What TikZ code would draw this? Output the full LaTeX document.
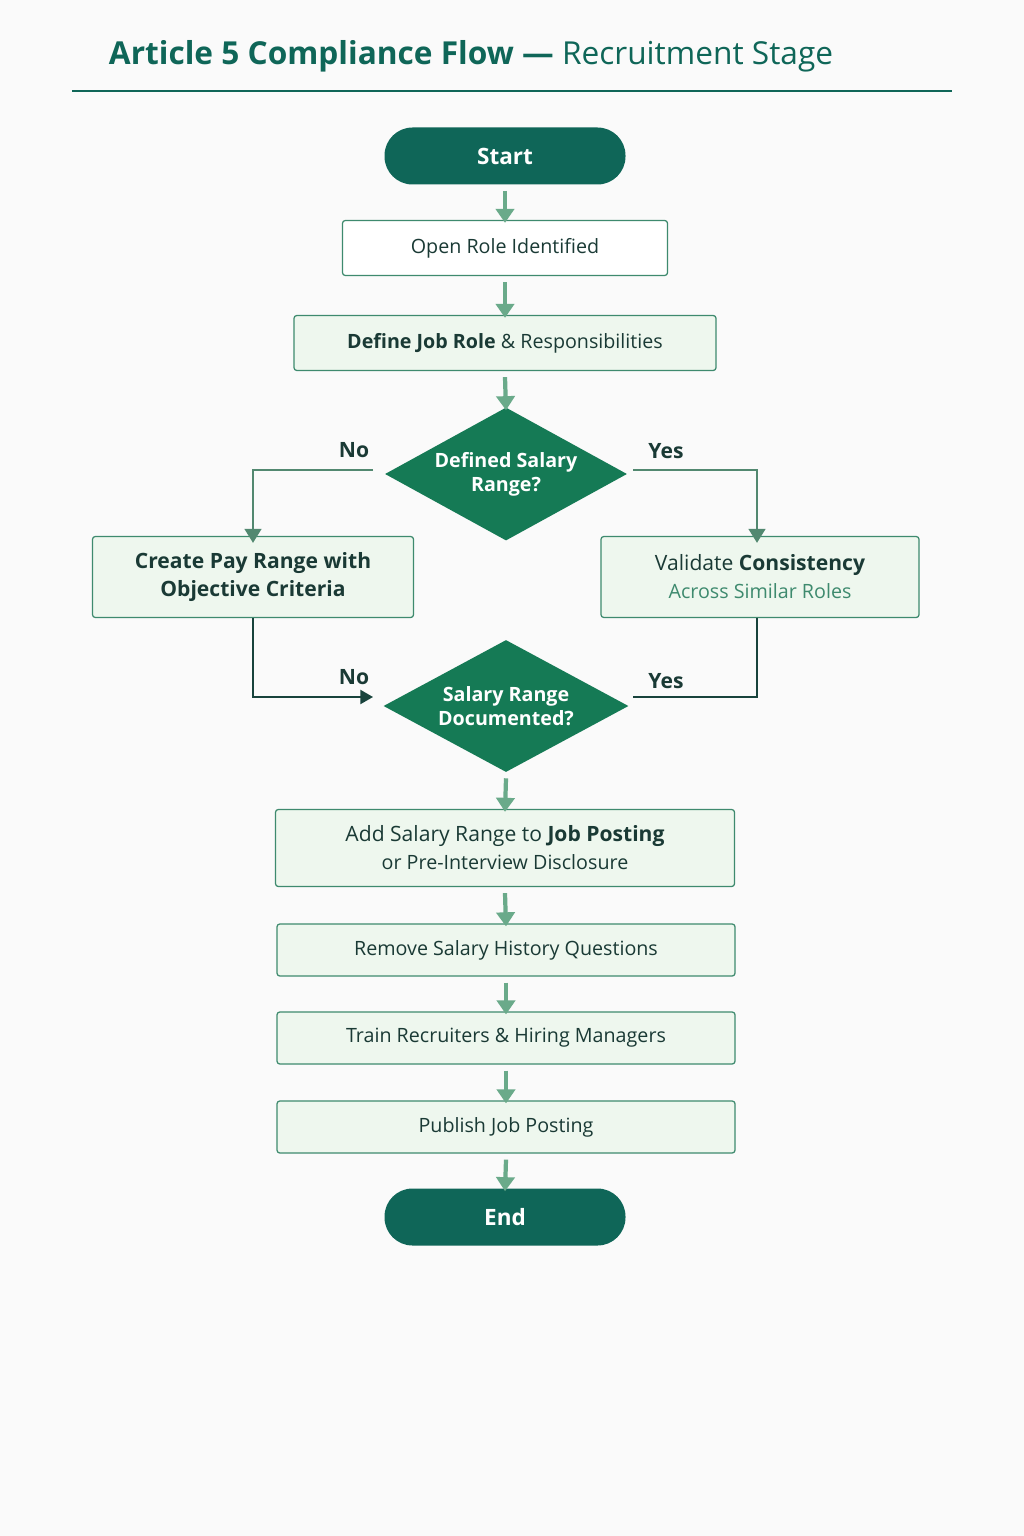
\documentclass[tikz,border=0pt]{standalone}
\usepackage{fontspec}
\setmainfont{Open Sans}
\usetikzlibrary{shapes.geometric,arrows.meta}
\definecolor{teal}{HTML}{0F6658}
\definecolor{dgreen}{HTML}{157A55}
\definecolor{lfill}{HTML}{EEF7EE}
\definecolor{bord}{HTML}{3E8A6E}
\definecolor{arr}{HTML}{6AAA8A}
\definecolor{ink}{HTML}{1A3A35}
\begin{document}
\begin{tikzpicture}[x=0.025cm,y=-0.025cm,
    pill/.style={rounded corners=28*0.025cm, fill=teal, text=white, font=\fontsize{16}{18}\selectfont\bfseries, minimum width=241*0.025cm, minimum height=57*0.025cm},
    box/.style={draw=bord, line width=0.9pt, fill=lfill, text=ink, rounded corners=2pt, align=center, font=\fontsize{14}{20}\selectfont},
    dec/.style={diamond, fill=dgreen, text=white, align=center, font=\fontsize{14}{17}\selectfont\bfseries, inner sep=0pt, aspect=1.8},
    flow/.style={draw=arr, line width=3pt, -{Triangle[length=10pt,width=13pt]}},
    branch/.style={draw=ink!80!teal, line width=1.4pt},
    lbl/.style={text=ink, font=\fontsize{15}{17}\selectfont\bfseries}]
    \fill[white!98!black] (0,0) rectangle (1024,1536);
    \node[text=teal, anchor=west, font=\fontsize{22.5}{26}\selectfont] (title) at (104,56) {\textbf{Article 5 Compliance Flow —} Recruitment Stage};
    \draw[teal, line width=1.2pt] (72,91) -- (952,91);
    % main column
    \node[pill] (start) at (505,156) {Start};
    \node[box, fill=white, minimum width=325*0.025cm, minimum height=55*0.025cm] (open) at (505,248) {Open Role Identified};
    \node[box, minimum width=422*0.025cm, minimum height=55*0.025cm] (define) at (505,343) {\textbf{Define Job Role} \& Responsibilities};
    \node[dec, minimum width=242*0.025cm, minimum height=133*0.025cm] (d1) at (506,474) {Defined Salary\\Range?};
    \node[box, minimum width=321*0.025cm, minimum height=81*0.025cm, font=\fontsize{15}{20}\selectfont\bfseries] (create) at (253,577) {Create Pay Range with\\Objective Criteria};
    \node[box, minimum width=318*0.025cm, minimum height=81*0.025cm] (valid) at (760,577) {\fontsize{15}{20}\selectfont Validate \textbf{Consistency}\\\textcolor{bord}{Across Similar Roles}};
    \node[dec, minimum width=245*0.025cm, minimum height=132*0.025cm] (d2) at (506,706) {Salary Range\\Documented?};
    \node[box, minimum width=459*0.025cm, minimum height=77*0.025cm] (add) at (505,848) {\fontsize{15}{20}\selectfont Add Salary Range to \textbf{Job Posting}\\or Pre-Interview Disclosure};
    \node[box, minimum width=458*0.025cm, minimum height=52*0.025cm] (remove) at (506,950) {Remove Salary History Questions};
    \node[box, minimum width=458*0.025cm, minimum height=52*0.025cm] (train) at (506,1038) {Train Recruiters \& Hiring Managers};
    \node[box, minimum width=458*0.025cm, minimum height=52*0.025cm] (publish) at (506,1127) {Publish Job Posting};
    \node[pill] (end) at (505,1217) {End};
    \foreach \a/\b in {start/open, open/define, define/d1, d2/add, add/remove, remove/train, train/publish, publish/end}
        \draw[flow] (\a.south) ++(0,6) -- ([yshift=-3*0.025cm]\b.north);
    % branches
    \coordinate (d1l) at (373,470);
    \coordinate (d1r) at (633,470);
    \coordinate (d2l) at (373,697);
    \coordinate (d2r) at (633,697);
    \draw[branch, -{Triangle[length=10pt,width=12pt]}, arr!70!ink] (d1l) -| ([yshift=-7*0.025cm]create.north);
    \draw[branch, -{Triangle[length=10pt,width=12pt]}, arr!70!ink] (d1r) -| ([yshift=-7*0.025cm]valid.north -| 757,0);
    \draw[branch, -{Triangle[length=9pt,width=10pt]}] (create.south) |- (d2l);
    \draw[branch] (valid.south -| 757,0) |- (d2r);
    \node[lbl] (no1) at (354,450) {No};
    \node[lbl] (yes1) at (666,451) {Yes};
    \node[lbl] (no2) at (354,677) {No};
    \node[lbl] (yes2) at (666,681) {Yes};
\end{tikzpicture}
\end{document}
